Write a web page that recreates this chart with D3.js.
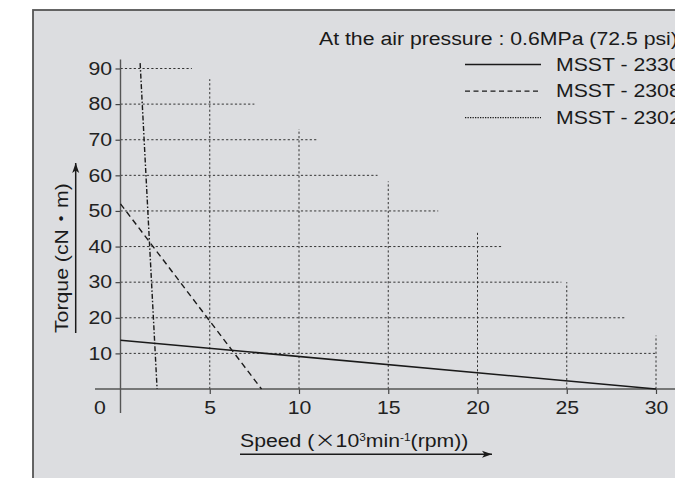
<html>
<head>
<style>
  body { margin: 0; background: #fff; }
  svg { display: block; font-family: "Liberation Sans", Arial, "Noto Sans CJK JP", sans-serif; }
  .grid { stroke: #333; stroke-width: 1; stroke-dasharray: 2.2 2.2; fill: none; }
</style>
</head>
<body>
<svg id="chart" width="675" height="478"></svg>
<script src="https://cdnjs.cloudflare.com/ajax/libs/d3/7.8.5/d3.min.js"></script>
<script>
// data
var seriesNames = ["MSST - 2330", "MSST - 2308", "MSST - 2302"];
var seriesDash = ["none", "6 4", "5 2 1.5 2"];
var legendDash = ["none", "5 3.5", "1.3 1.2"];
var line2330 = [[0, 13.7], [30, 0]];
var line2308 = [[0, 52], [7.9, 0]];
var line2302 = [[1.1, 91.5], [2.05, 0]];
var xTicks = [5, 10, 15, 20, 25, 30];
var yTicks = [10, 20, 30, 40, 50, 60, 70, 80, 90];
// how far each horizontal grid line runs (x value)
var hGridEnd = [30, 28.3, 24.7, 21.4, 17.8, 14.4, 11, 7.5, 4];
// how high each vertical grid line goes (y value)
var vGridTop = [87, 73, 58.3, 44, 30, 15];

var svg = d3.select("#chart");

var x = d3.scaleLinear().domain([0, 30]).range([120.5, 656]);
var y = d3.scaleLinear().domain([0, 90]).range([389, 68.5]);

// panel
svg.append("rect")
  .attr("x", 33).attr("y", 10)
  .attr("width", 700).attr("height", 500)
  .attr("fill", "#dcdde0")
  .attr("stroke", "#555").attr("stroke-width", 1.8);

// grid
svg.append("g").selectAll("line.h")
  .data(yTicks)
  .enter().append("line")
  .attr("class", "grid")
  .attr("x1", x(0)).attr("x2", function(d, i) { return x(hGridEnd[i]); })
  .attr("y1", function(d) { return y(d); }).attr("y2", function(d) { return y(d); });

svg.append("g").selectAll("line.v")
  .data(xTicks)
  .enter().append("line")
  .attr("class", "grid")
  .attr("x1", function(d) { return x(d); }).attr("x2", function(d) { return x(d); })
  .attr("y1", y(0)).attr("y2", function(d, i) { return y(vGridTop[i]); });

// axes
var xAxis = svg.append("g")
  .attr("transform", "translate(0," + y(0) + ")")
  .call(d3.axisBottom(x).tickValues(xTicks).tickSize(5).tickPadding(7.5));
var yAxis = svg.append("g")
  .attr("transform", "translate(" + x(0) + ",0)")
  .call(d3.axisLeft(y).tickValues(yTicks).tickSize(5).tickPadding(3.5));

[xAxis, yAxis].forEach(function(a) {
  a.select(".domain").remove();
  a.selectAll("line").attr("stroke", "#444").attr("stroke-width", 1.2);
  a.selectAll("text").attr("fill", "#222").style("font-size", "18px")
   .style("font-family", "'Liberation Sans', Arial, sans-serif");
});

// axis lines, longer than the data range
svg.append("line")
  .attr("x1", 95).attr("x2", 680)
  .attr("y1", y(0)).attr("y2", y(0))
  .attr("stroke", "#555").attr("stroke-width", 1.4);
svg.append("line")
  .attr("x1", x(0)).attr("x2", x(0))
  .attr("y1", y(92.5)).attr("y2", 413)
  .attr("stroke", "#555").attr("stroke-width", 1.4);

svg.append("text")
  .attr("x", 100).attr("y", y(0) + 12.5).attr("dy", "0.71em")
  .attr("text-anchor", "middle")
  .attr("fill", "#222").style("font-size", "18px")
  .text("0");

// series
var lineGen = d3.line()
  .x(function(d) { return x(d[0]); })
  .y(function(d) { return y(d[1]); });

[line2330, line2308, line2302].forEach(function(s, i) {
  svg.append("path")
    .attr("d", lineGen(s))
    .attr("fill", "none")
    .attr("stroke", "#1a1a1a")
    .attr("stroke-width", i == 0 ? 1.6 : 1.4)
    .attr("stroke-dasharray", seriesDash[i]);
});

// title + legend
svg.append("text")
  .attr("x", 319).attr("y", 45)
  .attr("fill", "#1a1a1a").style("font-size", "18px")
  .text("At the air pressure : 0.6MPa (72.5 psi)");

var legend = svg.append("g").selectAll("g")
  .data(seriesNames)
  .enter().append("g")
  .attr("transform", function(d, i) { return "translate(0," + (i * 26.6) + ")"; });
legend.append("line")
  .attr("x1", 465).attr("x2", 541)
  .attr("y1", 64.5).attr("y2", 64.5)
  .attr("stroke", "#1a1a1a").attr("stroke-width", 1.3)
  .attr("stroke-dasharray", function(d, i) { return legendDash[i]; });
legend.append("text")
  .attr("x", 556).attr("y", 70.5)
  .attr("fill", "#1a1a1a").style("font-size", "18px")
  .text(function(d) { return d; });

// arrow heads
svg.append("defs").append("marker")
  .attr("id", "arrow")
  .attr("viewBox", "0 0 10 10")
  .attr("refX", 10).attr("refY", 5)
  .attr("markerWidth", 10).attr("markerHeight", 10)
  .attr("markerUnits", "userSpaceOnUse")
  .attr("orient", "auto")
  .append("path")
  .attr("d", "M0,1.5 L10,5 L0,8.5 L2.5,5 Z")
  .attr("fill", "#1a1a1a");

// y label
svg.append("text")
  .attr("transform", "translate(68,333) rotate(-90)")
  .attr("fill", "#1a1a1a").style("font-size", "18px")
  .text("Torque (cN・m)");
svg.append("line")
  .attr("x1", 75.7).attr("x2", 75.7)
  .attr("y1", 333).attr("y2", 163)
  .attr("stroke", "#1a1a1a").attr("stroke-width", 1.5)
  .attr("marker-end", "url(#arrow)");

// x label
var xl = svg.append("text")
  .attr("x", 240).attr("y", 446.5)
  .attr("fill", "#1a1a1a").style("font-size", "18px");
xl.append("tspan").text("Speed (");
xl.append("tspan").style("font-family", "'Noto Sans CJK JP', sans-serif").text("×");
xl.append("tspan").text("10");
xl.append("tspan").attr("dy", -6).style("font-size", "10px").text("3");
xl.append("tspan").attr("dy", 6).text("min");
xl.append("tspan").attr("dy", -6).style("font-size", "10px").text("-1");
xl.append("tspan").attr("dy", 6).text("(rpm))");
svg.append("line")
  .attr("x1", 240).attr("x2", 492)
  .attr("y1", 454.3).attr("y2", 454.3)
  .attr("stroke", "#1a1a1a").attr("stroke-width", 1.5)
  .attr("marker-end", "url(#arrow)");

// the original lettering is wider than Arial: stretch every label a bit
svg.selectAll("text").each(function() {
  var w = this.getComputedTextLength();
  d3.select(this).attr("textLength", w * 1.18).attr("lengthAdjust", "spacingAndGlyphs");
});
</script>
</body>
</html>
